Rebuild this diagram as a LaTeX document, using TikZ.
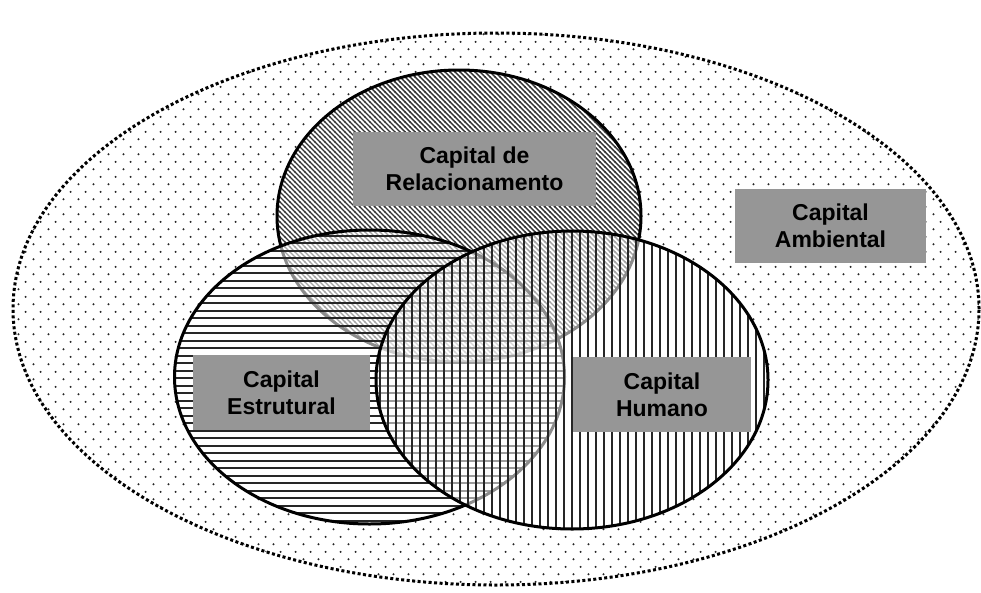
\documentclass[tikz,border=0pt]{standalone}
\usepackage{fontspec}
\setmainfont{Liberation Sans}
\usetikzlibrary{patterns,shapes.geometric}
\definecolor{boxgray}{RGB}{150,150,150}
\pgfdeclarepatternformonly{mydots}{\pgfqpoint{0pt}{0pt}}{\pgfqpoint{15pt}{15.4pt}}{\pgfqpoint{15pt}{15.4pt}}{%
  \pgfpathcircle{\pgfqpoint{3.75pt}{3.85pt}}{1.15pt}%
  \pgfpathcircle{\pgfqpoint{11.25pt}{11.55pt}}{1.15pt}%
  \pgfusepath{fill}}
\pgfdeclarepatternformonly{myhlines}{\pgfqpoint{-1pt}{0pt}}{\pgfqpoint{11pt}{7.5pt}}{\pgfqpoint{10pt}{7.5pt}}{%
  \pgfsetlinewidth{2pt}%
  \pgfpathmoveto{\pgfqpoint{-1pt}{3.75pt}}\pgfpathlineto{\pgfqpoint{11pt}{3.75pt}}%
  \pgfusepath{stroke}}
\pgfdeclarepatternformonly{myvlines}{\pgfqpoint{0pt}{-1pt}}{\pgfqpoint{8pt}{11pt}}{\pgfqpoint{8pt}{10pt}}{%
  \pgfsetlinewidth{2pt}%
  \pgfpathmoveto{\pgfqpoint{4pt}{-1pt}}\pgfpathlineto{\pgfqpoint{4pt}{11pt}}%
  \pgfusepath{stroke}}
\pgfdeclarepatternformonly{mydiag}{\pgfqpoint{-1pt}{-1pt}}{\pgfqpoint{6pt}{6pt}}{\pgfqpoint{5pt}{5pt}}{%
  \pgfsetlinewidth{1.4pt}%
  \pgfpathmoveto{\pgfqpoint{-0.5pt}{5.5pt}}\pgfpathlineto{\pgfqpoint{5.5pt}{-0.5pt}}%
  \pgfusepath{stroke}}
\tikzset{
  outerell/.style={ellipse, inner sep=0pt, pattern=mydots, pattern color=black!85,
    draw=black, line width=3pt, dash pattern=on 3pt off 2.5pt},
  innerell/.style={ellipse, inner sep=0pt, draw=black, line width=3pt},
  veil/.style={fill=white, fill opacity=0.55},
  labelbox/.style={rectangle, fill=boxgray, inner sep=0pt, align=center,
    font=\fontsize{23}{27}\selectfont\bfseries, text=black}
}
\begin{document}
\begin{tikzpicture}[x=1pt,y=-1pt]
\useasboundingbox (0,0) rectangle (981,592);
% outer ellipse
\node[outerell, minimum width=966pt, minimum height=552pt] (amb) at (496,309) {};
% blank the inner area
\fill[white] (459,216) ellipse [x radius=182pt, y radius=146pt];
\fill[white] (369.5,377) ellipse [x radius=195pt, y radius=147pt];
\fill[white] (572,380) ellipse [x radius=196pt, y radius=149pt];
% relacionamento
\node[innerell, pattern=mydiag, pattern color=black!80, minimum width=364pt, minimum height=292pt] (rel) at (459,216) {};
% estrutural
\fill[veil] (369.5,377) ellipse [x radius=195pt, y radius=147pt];
\node[innerell, pattern=myhlines, pattern color=black!85, minimum width=390pt, minimum height=294pt] (est) at (369.5,377) {};
% humano
\fill[veil] (572,380) ellipse [x radius=196pt, y radius=149pt];
\node[innerell, pattern=myvlines, pattern color=black!85, minimum width=392pt, minimum height=298pt] (hum) at (572,380) {};
% labels
\node[labelbox, minimum width=243pt, minimum height=74pt] (lrel) at (474.5,169) {Capital de\\Relacionamento};
\node[labelbox, minimum width=191pt, minimum height=74pt] (lamb) at (830.5,226) {Capital\\Ambiental};
\node[labelbox, minimum width=177pt, minimum height=75pt] (lest) at (281.5,392.5) {Capital\\Estrutural};
\node[labelbox, minimum width=178pt, minimum height=75pt] (lhum) at (662,394.5) {Capital\\Humano};
\end{tikzpicture}
\end{document}
